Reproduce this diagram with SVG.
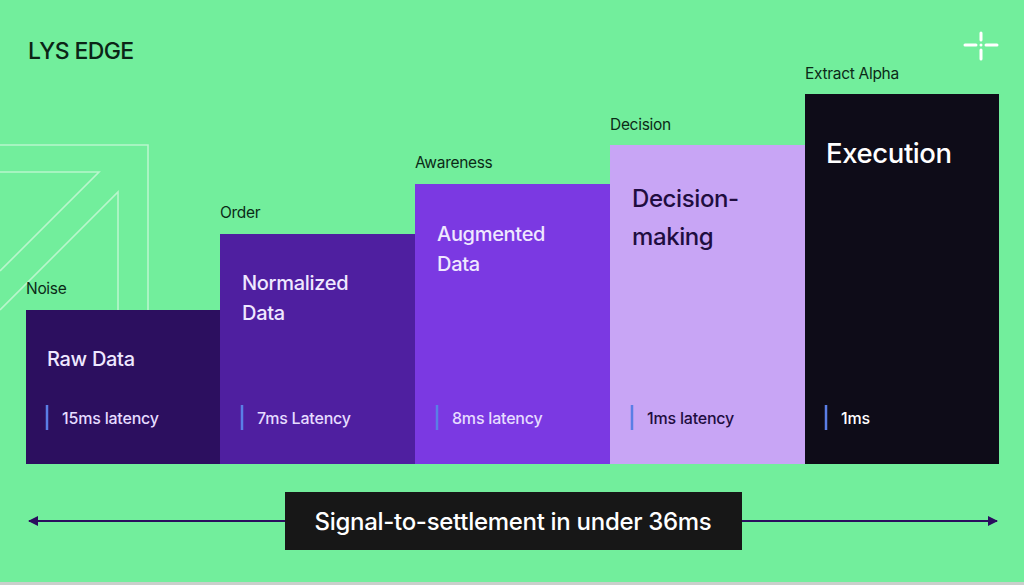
<svg xmlns="http://www.w3.org/2000/svg" width="1024" height="585" viewBox="0 0 1024 585">
<defs>
<style>
text{font-family:Inter,"Liberation Sans",sans-serif}
.cap{font-size:15.5px;fill:#0b2a17;letter-spacing:-0.3px}
.ttl{font-size:20px;fill:#efe8ff;letter-spacing:-0.3px;font-weight:500}
.lat{font-size:16px;fill:#e6dcff;letter-spacing:-0.2px;font-weight:500}
.bar{stroke:#5a7ee6;stroke-width:2.5}
.deco{fill:none;stroke:#b8f6cc;stroke-width:1.6}
</style>
<marker id="ah" viewBox="0 0 10 10" refX="9" refY="5" markerWidth="10" markerHeight="10" markerUnits="userSpaceOnUse" orient="auto-start-reverse">
<path d="M0,0 L10,5 L0,10 z" fill="#2a0e5e"/>
</marker>
</defs>
<rect width="1024" height="585" fill="#72ee9c"/>
<rect y="582" width="1024" height="3" fill="#c9cfcb"/>
<g id="decor">
<polyline class="deco" points="0,145 148,145 148,310"/>
<polyline class="deco" points="0,172 99,172 0,271"/>
<polyline class="deco" points="0,310 118,192 118,310"/>
</g>
<text x="28" y="59" style="font-size:23px;fill:#0b2416;letter-spacing:-0.6px;font-weight:500">LYS EDGE</text>
<g id="sparkle" stroke="#ffffff" stroke-width="3" stroke-linecap="round">
<line x1="965" y1="45" x2="976" y2="45"/>
<line x1="986" y1="45" x2="997" y2="45"/>
<line x1="981" y1="33" x2="981" y2="40"/>
<line x1="981" y1="50" x2="981" y2="59"/>
<circle cx="981" cy="45" r="1.5" fill="#ffffff" stroke="none"/>
</g>
<g id="connectors">
<line x1="29" y1="521" x2="997" y2="521" stroke="#2a0e5e" stroke-width="2" marker-start="url(#ah)" marker-end="url(#ah)"/>
</g>
<g id="raw-data">
<rect x="26" y="310" width="195" height="154" fill="#2c0f5f"/>
<text class="cap" x="26" y="294">Noise</text>
<text class="ttl" x="47" y="366">Raw Data</text>
<line class="bar" x1="47" y1="405" x2="47" y2="430"/>
<text class="lat" x="62" y="424">15ms latency</text>
</g>
<g id="normalized-data">
<rect x="220" y="234" width="196" height="230" fill="#4f1fa0"/>
<text class="cap" x="220" y="218">Order</text>
<text class="ttl" x="242" y="290">Normalized</text>
<text class="ttl" x="242" y="320">Data</text>
<line class="bar" x1="242" y1="405" x2="242" y2="430"/>
<text class="lat" x="257" y="424">7ms Latency</text>
</g>
<g id="augmented-data">
<rect x="415" y="184" width="196" height="280" fill="#7b39e2"/>
<text class="cap" x="415" y="168">Awareness</text>
<text class="ttl" x="437" y="241">Augmented</text>
<text class="ttl" x="437" y="271">Data</text>
<line class="bar" x1="437" y1="405" x2="437" y2="430"/>
<text class="lat" x="452" y="424">8ms latency</text>
</g>
<g id="decision-making">
<rect x="610" y="145" width="196" height="319" fill="#c8a5f5"/>
<text class="cap" x="610" y="130">Decision</text>
<text x="632" y="207" style="font-size:24px;fill:#1f0d40;letter-spacing:-0.4px;font-weight:500">Decision-</text>
<text x="632" y="245" style="font-size:24px;fill:#1f0d40;letter-spacing:-0.4px;font-weight:500">making</text>
<line class="bar" x1="632" y1="405" x2="632" y2="430"/>
<text class="lat" x="647" y="424" style="fill:#1f0d40">1ms latency</text>
</g>
<g id="execution">
<rect x="805" y="94" width="194" height="370" fill="#0e0c18"/>
<text class="cap" x="805" y="79">Extract Alpha</text>
<text x="826" y="163" style="font-size:27.5px;fill:#ffffff;letter-spacing:-0.4px;font-weight:500">Execution</text>
<line class="bar" x1="826" y1="405" x2="826" y2="430"/>
<text class="lat" x="841" y="424" style="fill:#ffffff">1ms</text>
</g>
<g id="summary">
<rect x="285" y="492" width="457" height="58" fill="#171717"/>
<text x="513" y="530" text-anchor="middle" style="font-size:24px;fill:#ffffff;letter-spacing:-0.3px;font-weight:500">Signal-to-settlement in under 36ms</text>
</g>
</svg>
